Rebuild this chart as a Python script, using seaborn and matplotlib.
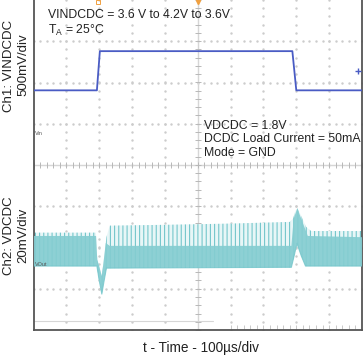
import numpy as np
import pandas as pd
import matplotlib
matplotlib.use("Agg")
import matplotlib.pyplot as plt
import seaborn as sns

ch1_t = [0, 193, 202, 788, 800, 1000]
ch1_div = [1.81, 1.81, 2.76, 2.76, 1.81, 1.81]

ch2_env_t = [0, 190, 194, 200, 208, 214, 222, 232, 400, 600, 780, 790, 798, 803, 810, 830, 845, 1000]
ch2_top = [-1.64, -1.64, -2.3, -2.45, -2.7, -2.3, -1.75, -1.47, -1.45, -1.42, -1.38, -1.3, -1.1, -1.05, -1.15, -1.5, -1.6, -1.6]
ch2_bot_t = [0, 193, 200, 208, 214, 222, 785, 795, 802, 815, 828, 1000]
ch2_bot = [-2.45, -2.45, -2.8, -3.13, -2.85, -2.5, -2.48, -2.15, -1.9, -2.2, -2.45, -2.45]
ch2_dense_t = [0, 190, 232, 785, 792, 803, 815, 835, 1000]
ch2_dense_top = [-1.72, -1.72, -1.96, -1.96, -1.3, -1.05, -1.3, -1.72, -1.75]

notes1 = ["VINDCDC = 3.6 V to 4.2V to 3.6V", "T$_\\mathregular{A}$ = 25°C"]
notes2 = ["VDCDC = 1.8V", "DCDC Load Current = 50mA", "Mode = GND"]
ylab1 = ["Ch1: VINDCDC", "500mV/div"]
ylab2 = ["Ch2: VDCDC", "20mV/div"]
xlab = "t - Time - 100µs/div"

# ---------------- style ----------------
sns.set_style("white")
plt.rcParams["font.family"] = ["Liberation Sans", "DejaVu Sans"]
plt.rcParams["mathtext.fontset"] = "custom"
plt.rcParams["mathtext.rm"] = "Liberation Sans"
plt.rcParams["hatch.linewidth"] = 0.8

W, H = 364, 356
fig = plt.figure(figsize=(W / 100, H / 100), dpi=100)
ax = fig.add_axes([33.5 / W, 26 / H, (362 - 33.5) / W, 330 / H])
ax.set_xlim(0, 1000)
ax.set_ylim(-4, 4)

BLUE = "#4a5cc4"
CYAN = "#74c6cb"
GRID = "#cccccc"

# dotted grid
minor_x = np.arange(0, 1001, 20)
minor_y = np.arange(-4, 4.01, 0.2)
for gx in range(100, 1000, 100):
    if gx == 500:
        continue
    ax.plot(np.full_like(minor_y, gx), minor_y, ls="none", marker="s", ms=0.7,
            color=GRID, zorder=1)
for gy in range(-3, 4):
    if gy == 0:
        continue
    ax.plot(minor_x, np.full_like(minor_x, gy, dtype=float), ls="none", marker="s", ms=0.7,
            color=GRID, zorder=1)
# centre cross with tick marks
ax.axhline(0, color="#d6d6d6", lw=1.0, zorder=1)
ax.axvline(500, color="#d6d6d6", lw=1.0, zorder=1)
ax.plot(minor_x, np.zeros_like(minor_x), ls="none", marker="|", ms=4, mew=0.7, color="#b8b8b8", zorder=1)
ax.plot(np.full_like(minor_y, 500), minor_y, ls="none", marker="_", ms=4, mew=0.7, color="#b8b8b8", zorder=1)
ax.plot([0, 545], [-3.78, -3.78], color="#d6d6d6", lw=0.8, zorder=1)
ax.plot(np.arange(600, 1000, 20), np.full(20, -3.92), ls="none", marker="|", ms=3, mew=0.6,
        color="#c0c0c0", zorder=1)

# channel 2 envelope
t_fine = np.linspace(0, 1000, 4001)
top_i = np.interp(t_fine, ch2_env_t, ch2_top)
bot_i = np.interp(t_fine, ch2_bot_t, ch2_bot)
top_i = np.maximum(top_i, bot_i)
dense_i = np.minimum(np.maximum(np.interp(t_fine, ch2_dense_t, ch2_dense_top), bot_i), top_i)
ax.fill_between(t_fine, bot_i, top_i, facecolor="#e8f6f7", edgecolor="none", zorder=2)
ax.fill_between(t_fine, bot_i, top_i, facecolor="none", edgecolor=CYAN, hatch="||||",
                linewidth=0, zorder=2)
ax.fill_between(t_fine, bot_i, dense_i, facecolor="#85cdd1", edgecolor="none", alpha=0.92, zorder=3)

df_bot = pd.DataFrame({"t": ch2_bot_t, "v": ch2_bot})
sns.lineplot(data=df_bot, x="t", y="v", color=CYAN, lw=0.8, alpha=0.8, ax=ax, zorder=3)

# channel 1
df1 = pd.DataFrame({"t": ch1_t, "v": ch1_div})
sns.lineplot(data=df1, x="t", y="v", color=BLUE, lw=1.3, ax=ax, zorder=4)

# markers
ax.plot([988], [2.29], marker="+", ms=4, mew=1.0, color=BLUE, zorder=5, clip_on=False)
ax.plot([500], [3.95], marker="v", ms=3, color="#f0a040", zorder=5, clip_on=False)
ax.plot([196], [3.95], marker="s", ms=2.5, mfc="none", mec="#f0a040", mew=0.7, zorder=5, clip_on=False)
ax.text(5, 0.77, "Vin", fontsize=4, color="#555555", va="center", ha="left", zorder=5)
ax.text(5, -2.42, "VOut", fontsize=4, color="#555555", va="center", ha="left", zorder=5)

ax.set_xticks([])
ax.set_yticks([])
ax.set_xlabel("")
ax.set_ylabel("")
for s in ["left", "bottom", "right"]:
    ax.spines[s].set_color("#555555")
    ax.spines[s].set_linewidth(1.3)
ax.spines["top"].set_visible(False)


def P(x, y):
    return x / W, 1 - y / H


fs = 8.8
fig.text(*P(48, 15), notes1[0], fontsize=fs, va="center", ha="left", color="#222222")
fig.text(*P(48, 30), notes1[1], fontsize=fs, va="center", ha="left", color="#222222")
for i, s in enumerate(notes2):
    fig.text(*P(204, 126 + 13.5 * i), s, fontsize=fs, va="center", ha="left", color="#222222")

fig.text(*P(9, 66), ylab1[0], fontsize=9.5, rotation=90, va="center", ha="center", color="#222222")
fig.text(*P(23, 65), ylab1[1], fontsize=9.5, rotation=90, va="center", ha="center", color="#222222")
fig.text(*P(9, 236), ylab2[0], fontsize=9.5, rotation=90, va="center", ha="center", color="#222222")
fig.text(*P(23, 235), ylab2[1], fontsize=9.5, rotation=90, va="center", ha="center", color="#222222")
fig.text(*P(201, 348), xlab, fontsize=9.8, va="center", ha="center", color="#222222")

fig.savefig("out.png", dpi=100, facecolor="white")
